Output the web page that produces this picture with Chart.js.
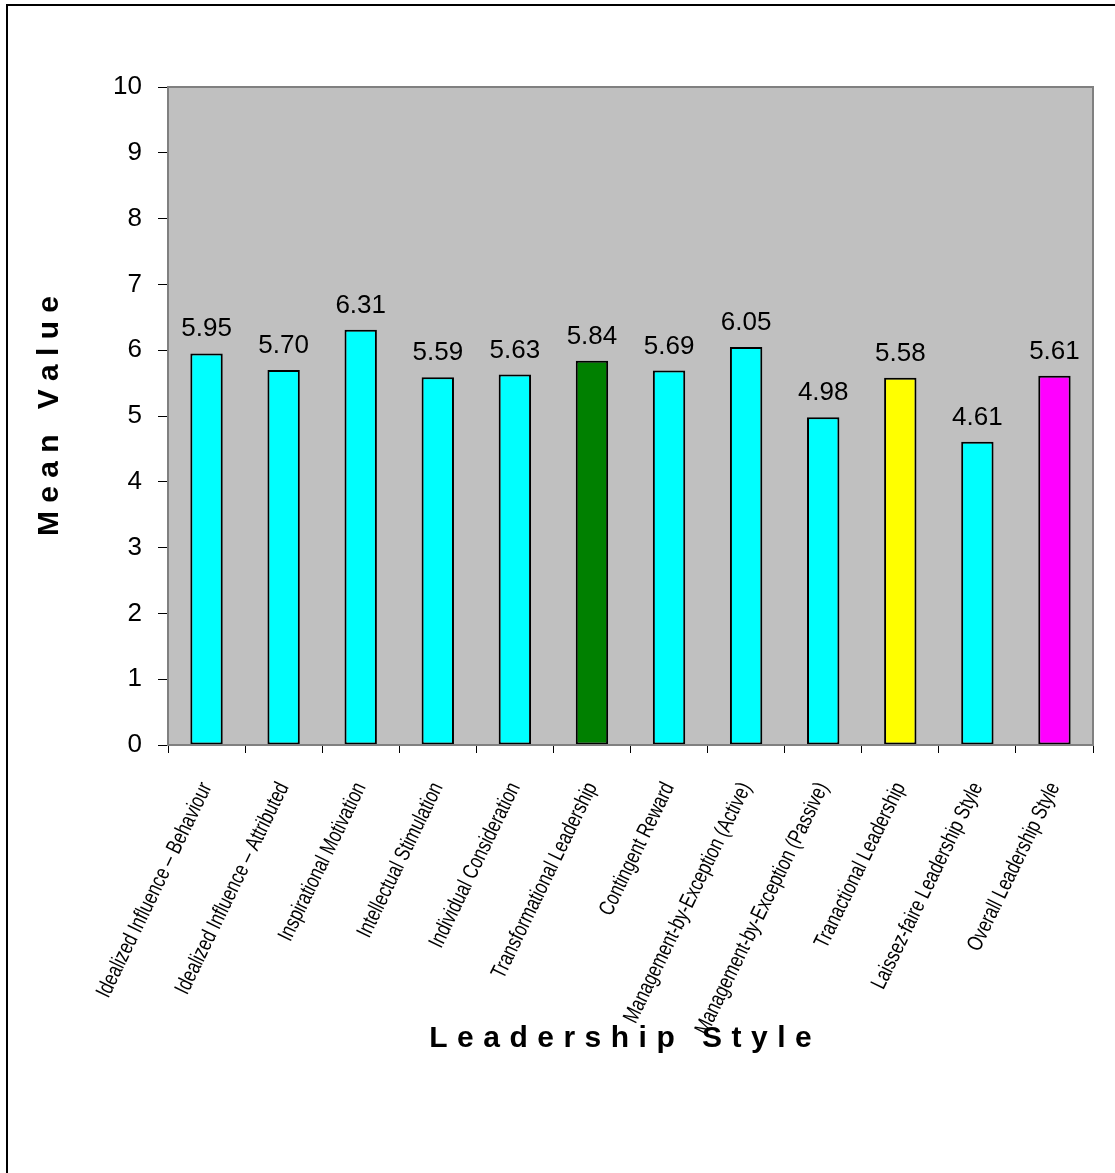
<!DOCTYPE html>
<html>
<head>
<meta charset="utf-8">
<title>Leadership Style Mean Values</title>
<script src="https://cdn.jsdelivr.net/npm/chart.js@4.4.1/dist/chart.umd.min.js"></script>
<style>
  html, body { margin: 0; padding: 0; background: #ffffff; }
  canvas { display: block; }
</style>
</head>
<body>
<canvas id="chart" width="1115" height="1173"></canvas>
<script>
// Leadership style categories and their mean scores
const categories = [
  "Idealized Influence \u2013 Behaviour",
  "Idealized Influence \u2013 Attributed",
  "Inspirational Motivation",
  "Intellectual Stimulation",
  "Individual Consideration",
  "Transformational Leadership",
  "Contingent Reward",
  "Management-by-Exception (Active)",
  "Management-by-Exception (Passive)",
  "Tranactional Leadership",
  "Laissez-faire Leadership Style",
  "Overall Leadership Style"
];
const meanValues = [5.95, 5.70, 6.31, 5.59, 5.63, 5.84, 5.69, 6.05, 4.98, 5.58, 4.61, 5.61];
const barColors = [
  "#00FFFF", "#00FFFF", "#00FFFF", "#00FFFF", "#00FFFF", "#008000",
  "#00FFFF", "#00FFFF", "#00FFFF", "#FFFF00", "#00FFFF", "#FF00FF"
];
const yTicks = [0, 1, 2, 3, 4, 5, 6, 7, 8, 9, 10];
const yTitle = "M e a n   V a l u e";
const xTitle = "Leadership Style";

const SANS = "'Liberation Sans', Arial, Helvetica, sans-serif";

// White page with an outer frame, grey plot background
const framePlugin = {
  id: "frame",
  beforeDraw(chart) {
    const ctx = chart.ctx;
    const a = chart.chartArea;
    ctx.save();
    ctx.fillStyle = "#ffffff";
    ctx.fillRect(0, 0, chart.width, chart.height);
    ctx.strokeStyle = "#000000";
    ctx.lineWidth = 2;
    ctx.strokeRect(7, 5, chart.width + 40, chart.height + 40);
    ctx.fillStyle = "#C0C0C0";
    ctx.fillRect(a.left, a.top, a.right - a.left, a.bottom - a.top);
    ctx.restore();
  },
  afterDatasetsDraw(chart) {
    const ctx = chart.ctx;
    const a = chart.chartArea;
    ctx.save();
    ctx.strokeStyle = "#808080";
    ctx.lineWidth = 2;
    ctx.strokeRect(a.left, a.top, a.right - a.left, a.bottom - a.top);
    ctx.restore();
  }
};

// Value printed above each bar
const valueLabels = {
  id: "valueLabels",
  afterDatasetsDraw(chart) {
    const ctx = chart.ctx;
    const meta = chart.getDatasetMeta(0);
    ctx.save();
    ctx.font = "26px " + SANS;
    ctx.fillStyle = "#000000";
    ctx.textAlign = "center";
    ctx.textBaseline = "alphabetic";
    meta.data.forEach((bar, i) => {
      ctx.fillText(meanValues[i].toFixed(2), bar.x, bar.y - 17);
    });
    ctx.restore();
  }
};

// Slanted, condensed category names under the x axis, plus the axis title
const categoryLabels = {
  id: "categoryLabels",
  afterDraw(chart) {
    const ctx = chart.ctx;
    const xs = chart.scales.x;
    const angle = 64 * Math.PI / 180;
    ctx.save();
    ctx.font = "22px " + SANS;
    ctx.fillStyle = "#000000";
    ctx.textAlign = "right";
    ctx.textBaseline = "middle";
    xs.ticks.forEach((t, i) => {
      const x = xs.getPixelForTick(i);
      ctx.save();
      ctx.translate(x, xs.top + 39);
      ctx.rotate(-angle);
      ctx.scale(0.77, 1);
      ctx.fillText(categories[i], 0, 0);
      ctx.restore();
    });
    // Axis title, spread out letter by letter
    ctx.font = "bold 30px " + SANS;
    ctx.textAlign = "left";
    const spacing = 9.5;
    let width = 0;
    const chars = Array.from(xTitle);
    chars.forEach(c => { width += ctx.measureText(c).width; });
    width += spacing * (chars.length - 1);
    let cx = (xs.left + xs.right) / 2 - 10 - width / 2;
    chars.forEach(c => {
      ctx.fillText(c, cx, 1039);
      cx += ctx.measureText(c).width + spacing;
    });
    ctx.restore();
  }
};

new Chart(document.getElementById("chart"), {
  type: "bar",
  data: {
    labels: categories,
    datasets: [{
      data: meanValues,
      backgroundColor: barColors,
      borderColor: "#000000",
      borderWidth: 2,
      borderSkipped: false,
      barPercentage: 0.42,
      categoryPercentage: 1.0
    }]
  },
  options: {
    responsive: false,
    animation: false,
    devicePixelRatio: 1,
    layout: { padding: { left: 28, top: 87, right: 22, bottom: 116 } },
    plugins: {
      legend: { display: false },
      tooltip: { enabled: false }
    },
    scales: {
      x: {
        afterFit(scale) { scale.height = 312; },
        border: { display: false },
        grid: {
          offset: true,
          drawOnChartArea: false,
          drawTicks: true,
          tickLength: 8,
          color: "#000000"
        },
        ticks: {
          display: false,
          autoSkip: false
        },
        title: { display: false }
      },
      y: {
        min: 0,
        max: 10,
        afterFit(scale) { scale.width = 140; },
        afterBuildTicks(scale) { scale.ticks = yTicks.map(v => ({ value: v })); },
        border: { display: false },
        grid: {
          drawOnChartArea: false,
          drawTicks: true,
          tickLength: 10,
          color: "#000000"
        },
        ticks: {
          padding: 16,
          color: "#000000",
          font: { family: SANS, size: 26 }
        },
        title: {
          display: true,
          text: yTitle,
          color: "#000000",
          padding: { top: 4, bottom: 0 },
          font: { family: SANS, size: 30, weight: "bold" }
        }
      }
    }
  },
  plugins: [framePlugin, valueLabels, categoryLabels]
});
</script>
</body>
</html>
